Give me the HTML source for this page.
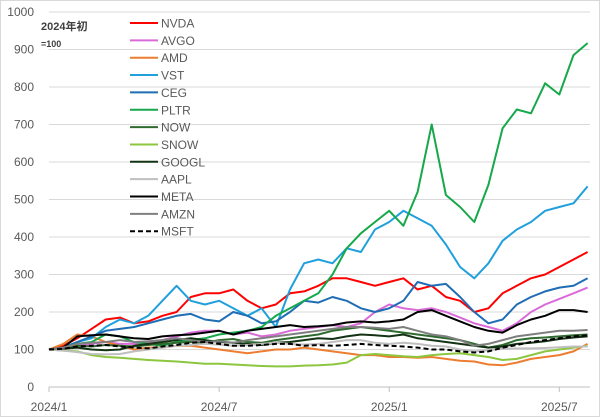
<!DOCTYPE html>
<html><head><meta charset="utf-8"><style>
body{margin:0;background:#fff;}
svg{display:block;font-family:"Liberation Sans","Noto Sans CJK JP",sans-serif;}
</style></head><body>
<svg id="chart" width="600" height="417">
<rect x="0.5" y="0.5" width="599" height="416" fill="#fff" stroke="#d9d9d9"/>
<text x="41" y="30" font-size="11" font-weight="bold" fill="#404040">2024年初</text>
<text x="41" y="47" font-size="9" font-weight="bold" fill="#404040">=100</text>
<g id="grid"></g><g id="series"></g><g id="legend"></g>
</svg>
<script>
const yTicks=[0,100,200,300,400,500,600,700,800,900,1000];
const xTickLabels=["2024/1","2024/7","2025/1","2025/7"];
const xTickMonths=[0,6,12,18];
const names=["NVDA","AVGO","AMD","VST","CEG","PLTR","NOW","SNOW","GOOGL","AAPL","META","AMZN","MSFT"];
const colors=["#ff0000","#d96bd9","#ed7d31","#1fa0dc","#1f6db5","#16a84a","#2e6b2e","#8dc63f","#143214","#bfbfbf","#000000","#7f7f7f","#000000"];
const NVDA=[100,110,130,155,180,185,170,175,190,200,240,250,250,260,230,210,220,250,255,270,290,290,280,270,280,290,260,270,240,230,200,210,250,270,290,300,320,340,360];
const AVGO=[100,105,110,115,120,115,115,120,125,135,145,150,150,140,145,135,140,150,155,160,165,160,170,200,220,210,205,210,200,185,170,160,150,170,200,220,235,250,265];
const AMD=[100,115,140,135,120,110,100,105,105,110,110,105,100,95,90,95,100,100,105,100,95,90,85,85,80,80,78,80,75,70,68,60,58,65,75,80,85,95,115];
const VST=[100,105,120,130,160,180,170,190,230,270,230,220,230,210,190,210,160,260,330,340,330,370,360,420,440,470,450,430,380,320,290,330,390,420,440,470,480,490,535];
const CEG=[100,105,120,135,150,155,160,170,180,190,195,180,175,200,190,170,175,200,230,225,240,230,210,200,210,230,280,270,275,240,200,170,180,220,240,255,265,270,290];
const PLTR=[100,105,115,120,140,135,120,115,110,120,125,130,140,145,150,160,190,210,230,250,300,370,410,440,470,430,520,700,512,480,440,539,690,740,730,810,780,885,917];
const NOW=[100,105,110,108,112,110,108,112,115,118,120,118,125,128,120,118,125,130,135,140,150,155,160,155,150,145,140,135,130,125,115,105,112,125,130,132,135,138,140];
const SNOW=[100,97,95,85,80,78,75,72,70,68,65,62,62,60,58,56,55,55,57,58,60,65,85,88,85,82,80,85,88,90,85,80,72,75,85,95,100,105,110];
const GOOGL=[100,102,105,100,98,100,110,115,120,125,130,125,120,118,115,112,118,120,125,130,128,135,140,138,135,140,130,125,120,115,110,105,108,115,118,122,128,132,135];
const AAPL=[100,97,93,88,87,88,95,100,105,110,112,115,113,110,112,115,118,115,113,115,120,125,125,118,115,118,115,110,108,100,95,98,102,103,103,104,106,108,108];
const META=[100,105,135,138,140,135,130,128,135,138,140,145,150,140,150,155,160,165,160,162,165,172,175,172,175,180,200,205,190,175,160,150,145,165,180,190,205,205,200];
const AMZN=[100,105,115,118,120,125,120,122,125,130,125,120,122,118,125,130,135,140,145,150,155,160,160,158,155,160,150,140,135,125,110,115,125,135,140,145,150,150,152];
const MSFT=[100,102,108,110,112,108,105,103,108,112,118,120,115,110,110,112,115,115,110,112,110,112,115,112,110,108,105,100,100,95,92,95,105,112,120,125,130,135,138];
const seriesData=[NVDA,AVGO,AMD,VST,CEG,PLTR,NOW,SNOW,GOOGL,AAPL,META,AMZN,MSFT];
const NS="http://www.w3.org/2000/svg";
const xOf=m=>49+m*28.35;
const yOf=v=>387-v*0.375;
const grid=document.getElementById('grid');
yTicks.forEach(t=>{
  const l=document.createElementNS(NS,'line');
  l.setAttribute('x1',49);l.setAttribute('x2',590);l.setAttribute('y1',yOf(t));l.setAttribute('y2',yOf(t));
  l.setAttribute('stroke',t===0?'#bfbfbf':'#d9d9d9');
  
  
  grid.appendChild(l);
  const tx=document.createElementNS(NS,'text');
  tx.setAttribute('x',34);tx.setAttribute('y',yOf(t)+4);tx.setAttribute('text-anchor','end');
  tx.setAttribute('font-size','12');tx.setAttribute('fill','#595959');tx.textContent=t;
  
  
  grid.appendChild(tx);
});
xTickMonths.forEach((m,i)=>{
  const l=document.createElementNS(NS,'line');
  l.setAttribute('x1',xOf(m));l.setAttribute('x2',xOf(m));l.setAttribute('y1',387);l.setAttribute('y2',392);
  l.setAttribute('stroke','#bfbfbf');
  
  
  grid.appendChild(l);
  const tx=document.createElementNS(NS,'text');
  tx.setAttribute('x',xOf(m));tx.setAttribute('y',411);tx.setAttribute('text-anchor','middle');
  tx.setAttribute('font-size','12');tx.setAttribute('fill','#595959');tx.textContent=xTickLabels[i];
  
  
  grid.appendChild(tx);
});
const sg=document.getElementById('series');
seriesData.forEach((arr,si)=>{
  const p=document.createElementNS(NS,'polyline');
  p.setAttribute('points',arr.map((v,i)=>xOf(i*0.5).toFixed(1)+','+yOf(v).toFixed(1)).join(' '));
  p.setAttribute('fill','none');p.setAttribute('stroke',colors[si]);p.setAttribute('stroke-width','2');
  p.setAttribute('stroke-linejoin','round');
  if(names[si]==='MSFT')p.setAttribute('stroke-dasharray','5,3');
  
  
  sg.appendChild(p);
});
const lg=document.getElementById('legend');
names.forEach((n,i)=>{
  const y=23+i*17.35;
  const l=document.createElementNS(NS,'line');
  l.setAttribute('x1',130);l.setAttribute('x2',158);l.setAttribute('y1',y);l.setAttribute('y2',y);
  l.setAttribute('stroke',colors[i]);l.setAttribute('stroke-width','2');
  if(n==='MSFT')l.setAttribute('stroke-dasharray','5,3');
  
  
  lg.appendChild(l);
  const tx=document.createElementNS(NS,'text');
  tx.setAttribute('x',161);tx.setAttribute('y',y+4.5);tx.setAttribute('font-size','12');tx.setAttribute('fill','#595959');
  tx.textContent=n;
  
  
  lg.appendChild(tx);
});
</script>
</body></html>
